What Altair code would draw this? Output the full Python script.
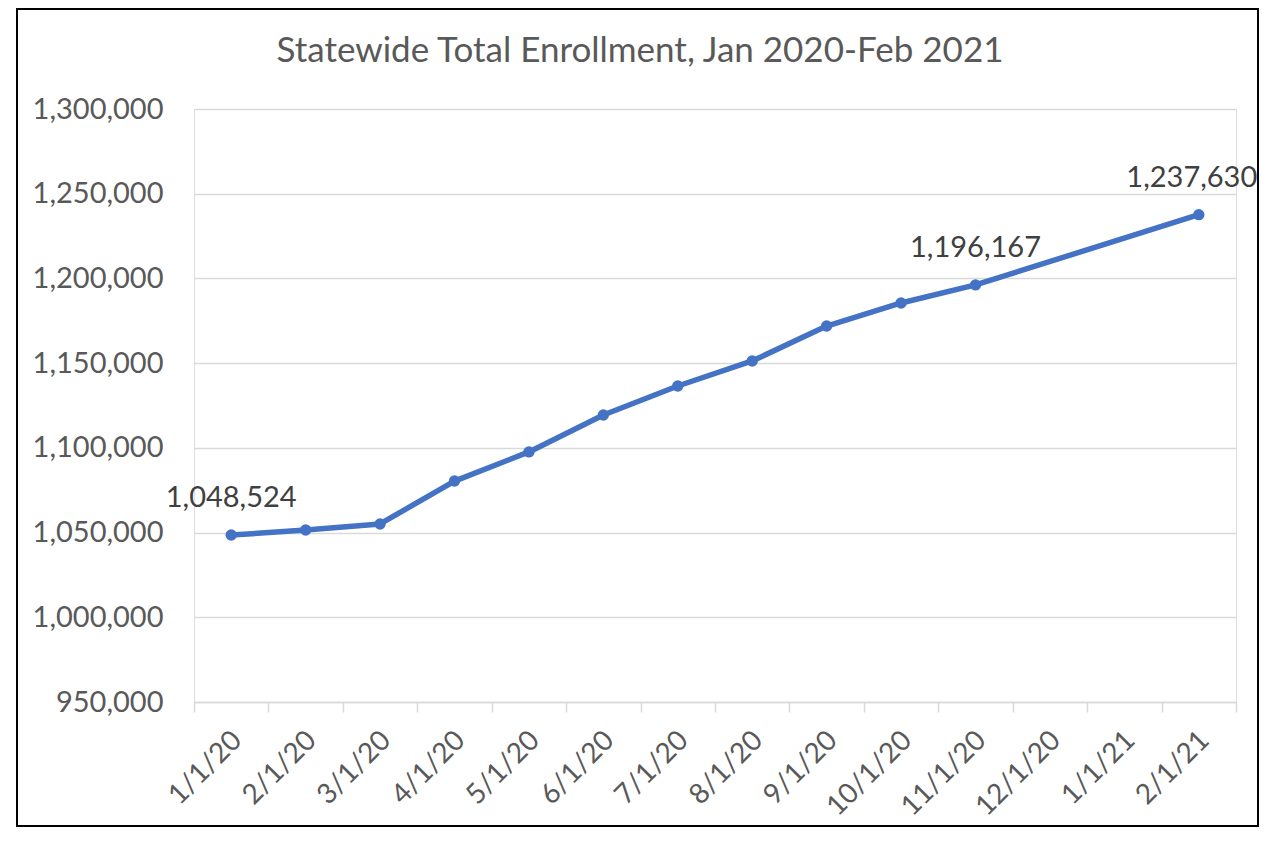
import altair as alt
import pandas as pd

# ---- data ----
categories = ["1/1/20", "2/1/20", "3/1/20", "4/1/20", "5/1/20", "6/1/20", "7/1/20",
              "8/1/20", "9/1/20", "10/1/20", "11/1/20", "12/1/20", "1/1/21", "2/1/21"]
data_dates = ["1/1/20", "2/1/20", "3/1/20", "4/1/20", "5/1/20", "6/1/20", "7/1/20",
              "8/1/20", "9/1/20", "10/1/20", "11/1/20", "2/1/21"]
enrollment = [1048524, 1051500, 1055100, 1080400, 1097600, 1119400, 1136500,
              1151300, 1171900, 1185500, 1196167, 1237630]
labeled_dates = ["1/1/20", "11/1/20"]
labeled_last = ["2/1/21"]
y_ticks = [950000, 1000000, 1050000, 1100000, 1150000, 1200000, 1250000, 1300000]
title_text = "Statewide Total Enrollment, Jan 2020-Feb 2021"

df = pd.DataFrame({"date": data_dates, "enrollment": enrollment})
df["labeled"] = df["date"].isin(labeled_dates)
df["labeled_last"] = df["date"].isin(labeled_last)

FONT = "Lato"
LINE_COLOR = "#4472C4"
W, H = 1042, 593

x_enc = alt.X(
    "date:O",
    sort=categories,
    scale=alt.Scale(type="band", domain=categories, paddingInner=0, paddingOuter=0),
    bandPosition=0.5,
    axis=alt.Axis(
        title=None,
        tickBand="extent",
        grid=False,
        domainColor="#d9d9d9",
        domainWidth=1.5,
        tickColor="#d9d9d9",
        tickWidth=1.5,
        tickSize=10,
        labelAngle=-45,
        labelAlign="right",
        labelBaseline="top",
        labelPadding=14,
        labelOffset=-4,
        labelColor="#595959",
        labelFont=FONT,
        labelFontSize=28,
    ),
)
y_enc = alt.Y(
    "enrollment:Q",
    scale=alt.Scale(domain=[950000, 1300000], nice=False, zero=False),
    axis=alt.Axis(
        title=None,
        values=y_ticks,
        labelExpr="format(datum.value, ',')",
        domain=False,
        ticks=False,
        grid=True,
        gridColor="#d9d9d9",
        gridWidth=1.5,
        labelPadding=31,
        labelColor="#595959",
        labelFont=FONT,
        labelFontSize=29,
    ),
)

base = alt.Chart(df).encode(x=x_enc, y=y_enc)

line = base.mark_line(color=LINE_COLOR, strokeWidth=5.5, strokeCap="round", strokeJoin="round")
points = base.mark_circle(color=LINE_COLOR, size=130, opacity=1)
label_style = dict(font=FONT, fontSize=29, color="#404040", baseline="alphabetic", align="center", dy=-28)
labels = base.transform_filter(alt.datum.labeled).mark_text(**label_style).encode(
    text=alt.Text("enrollment:Q", format=",")
)
labels_last = base.transform_filter(alt.datum.labeled_last).mark_text(dx=-7, **label_style).encode(
    text=alt.Text("enrollment:Q", format=",")
)

frame = alt.Chart(pd.DataFrame({"k": [0]})).mark_rect(
    fill=None, stroke="black", strokeWidth=2, clip=False
).encode(
    x=alt.value(-177), x2=alt.value(1064), y=alt.value(-100), y2=alt.value(717)
)

chart = alt.layer(line, points, labels, labels_last, frame).properties(
    width=W,
    height=H,
    title=alt.TitleParams(
        title_text,
        font=FONT,
        fontSize=35,
        fontWeight="normal",
        color="#595959",
        anchor="middle",
        baseline="alphabetic",
        offset=-89,
        dx=-75,
    ),
    autosize=alt.AutoSizeParams(type="none"),
    padding={"left": 186, "top": 101, "right": 24, "bottom": 126},
).configure_view(stroke=None).configure(background="white")

chart.save("out.html", embed_options={"renderer": "svg", "actions": False})
